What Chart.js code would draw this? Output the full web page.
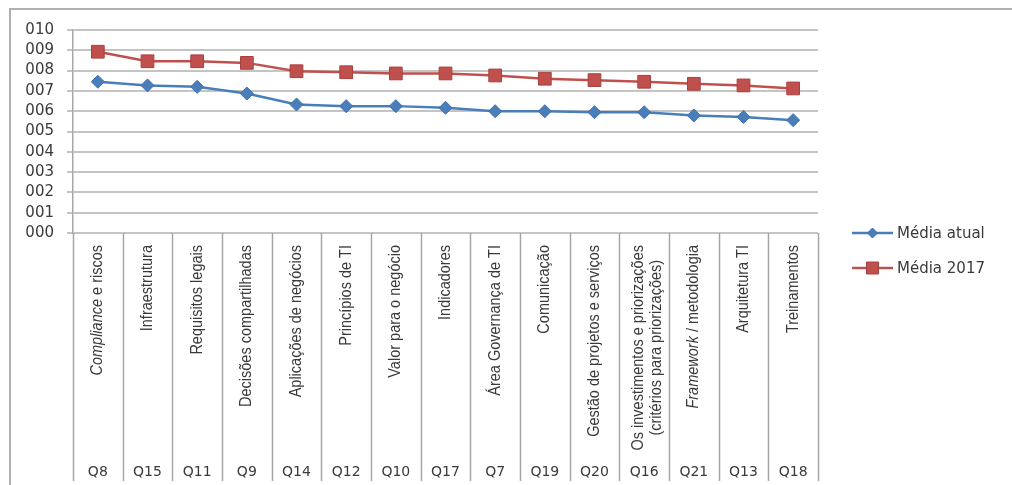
<!DOCTYPE html>
<html>
<head>
<meta charset="utf-8">
<script src="https://cdn.jsdelivr.net/npm/chart.js@4/dist/chart.umd.min.js"></script>
<style>
  html, body { margin: 0; padding: 0; background: #ffffff; }
  #wrap { width: 1012px; height: 485px; position: relative; }
</style>
</head>
<body>
<div id="wrap"><canvas id="c" width="1012" height="485"></canvas></div>
<script>
// ---- data ----
const categoryLabels = [
  'Compliance e riscos',
  'Infraestrutura',
  'Requisitos legais',
  'Decisões compartilhadas',
  'Aplicações de negócios',
  'Princípios de TI',
  'Valor para o negócio',
  'Indicadores',
  'Área Governança de TI',
  'Comunicação',
  'Gestão de projetos e serviços',
  'Os investimentos e priorizações\n(critérios para priorizações)',
  'Framework / metodologia',
  'Arquitetura TI',
  'Treinamentos'
];
const italicWords = ['Compliance', 'Framework'];
const qCodes = ['Q8','Q15','Q11','Q9','Q14','Q12','Q10','Q17','Q7','Q19','Q20','Q16','Q21','Q13','Q18'];
const mediaAtual = [7.45, 7.27, 7.20, 6.87, 6.33, 6.25, 6.25, 6.17, 6.00, 6.00, 5.95, 5.95, 5.79, 5.72, 5.56];
const media2017  = [8.93, 8.46, 8.46, 8.38, 7.97, 7.92, 7.86, 7.86, 7.76, 7.60, 7.53, 7.45, 7.35, 7.27, 7.12];
const yTickLabels = ['000','001','002','003','004','005','006','007','008','009','010'];
const seriesNames = ['Média atual', 'Média 2017'];

const BLUE = '#4A7EBB', BLUE_DARK = '#3D6EA8';
const RED = '#C0504D', RED_DARK = '#A8403D';
const TEXT = '#3a3a3a';
const LINE_GRAY = '#a6a6a6';

const customPlugin = {
  id: 'excelDecor',
  afterDraw(chart) {
    const ctx = chart.ctx;
    const xs = chart.scales.x;
    const area = chart.chartArea;
    const n = categoryLabels.length;
    const step = xs.getPixelForValue(1) - xs.getPixelForValue(0);
    const bottomY = 481;

    ctx.save();
    // outer frame
    ctx.strokeStyle = '#b0b0b0';
    ctx.lineWidth = 2;
    ctx.beginPath();
    ctx.moveTo(10, 600); ctx.lineTo(10, 9); ctx.lineTo(1100, 9);
    ctx.stroke();

    // category separators
    ctx.strokeStyle = LINE_GRAY;
    ctx.lineWidth = 1.5;
    for (let i = 0; i <= n; i++) {
      const x = Math.round(xs.getPixelForValue(i) - step / 2) + 0.5;
      ctx.beginPath();
      ctx.moveTo(x, area.bottom);
      ctx.lineTo(x, bottomY);
      ctx.stroke();
    }

    // rotated category labels
    const fs = 14.5;
    const normalFont = fs + 'px "Liberation Sans", Arial, sans-serif';
    const italicFont = 'italic ' + fs + 'px "Liberation Sans", Arial, sans-serif';
    ctx.fillStyle = TEXT;
    ctx.textBaseline = 'middle';
    ctx.textAlign = 'left';
    const topY = 245;
    categoryLabels.forEach((lab, i) => {
      const cx = xs.getPixelForValue(i);
      const lines = lab.split('\n');
      const segLines = lines.map(line => {
        const segs = [];
        let rest = line;
        italicWords.forEach(w => {
          if (rest.startsWith(w)) { segs.push({t: w, it: true}); rest = rest.slice(w.length); }
        });
        if (rest.length) segs.push({t: rest, it: false});
        let w = 0;
        segs.forEach(s => { ctx.font = s.it ? italicFont : normalFont; s.w = ctx.measureText(s.t).width; w += s.w; });
        return {segs, w};
      });
      const maxW = Math.max(...segLines.map(l => l.w));
      const lineH = 18;
      const multi = segLines.length > 1;
      ctx.save();
      ctx.translate(cx + (multi ? 3 : 0), topY);
      ctx.rotate(-Math.PI / 2);
      ctx.scale(1, 1.12);
      segLines.forEach((l, li) => {
        const yOff = (li - (segLines.length - 1) / 2) * lineH / 1.12;
        let x = -maxW / 2 - l.w / 2;
        l.segs.forEach(s => {
          ctx.font = s.it ? italicFont : normalFont;
          ctx.fillText(s.t, x, yOff);
          x += s.w;
        });
      });
      ctx.restore();
    });

    // Q codes row
    ctx.font = '14px "DejaVu Sans", sans-serif';
    ctx.textAlign = 'center';
    ctx.textBaseline = 'middle';
    ctx.fillStyle = TEXT;
    qCodes.forEach((q, i) => {
      ctx.fillText(q, xs.getPixelForValue(i), 472);
    });

    // legend
    const lx0 = 852, lx1 = 893, tx = 897;
    const ly = [233, 268];
    const cols = [[BLUE, BLUE_DARK], [RED, RED_DARK]];
    ctx.font = '15px "DejaVu Sans", sans-serif';
    ctx.textAlign = 'left';
    seriesNames.forEach((name, k) => {
      const y = ly[k];
      ctx.strokeStyle = cols[k][0];
      ctx.lineWidth = 2.5;
      ctx.beginPath(); ctx.moveTo(lx0, y); ctx.lineTo(lx1, y); ctx.stroke();
      const mx = (lx0 + lx1) / 2;
      ctx.fillStyle = cols[k][0];
      ctx.strokeStyle = cols[k][1];
      ctx.lineWidth = 1;
      ctx.beginPath();
      if (k === 0) {
        const r = 5;
        ctx.moveTo(mx, y - r); ctx.lineTo(mx + r, y); ctx.lineTo(mx, y + r); ctx.lineTo(mx - r, y); ctx.closePath();
      } else {
        const h = 6;
        ctx.rect(mx - h, y - h, 2 * h, 2 * h);
      }
      ctx.fill(); ctx.stroke();
      ctx.fillStyle = TEXT;
      ctx.fillText(name, tx, y + 1);
    });
    ctx.restore();
  }
};

new Chart(document.getElementById('c'), {
  type: 'line',
  data: {
    labels: qCodes,
    datasets: [
      {
        label: seriesNames[0],
        data: mediaAtual,
        borderColor: BLUE,
        backgroundColor: BLUE,
        borderWidth: 2.5,
        pointStyle: 'rectRot',
        pointRadius: 6.5,
        pointBackgroundColor: BLUE,
        pointBorderColor: BLUE_DARK,
        pointBorderWidth: 1,
        tension: 0
      },
      {
        label: seriesNames[1],
        data: media2017,
        borderColor: RED,
        backgroundColor: RED,
        borderWidth: 2.5,
        pointStyle: 'rect',
        pointRadius: 9,
        pointBackgroundColor: RED,
        pointBorderColor: RED_DARK,
        pointBorderWidth: 1,
        tension: 0
      }
    ]
  },
  options: {
    responsive: false,
    animation: false,
    devicePixelRatio: 1,
    layout: { padding: { top: 30, right: 194, left: 0, bottom: 0 } },
    plugins: {
      legend: { display: false },
      tooltip: { enabled: false }
    },
    scales: {
      x: {
        type: 'category',
        offset: true,
        grid: { display: false, drawTicks: false },
        border: { display: false },
        ticks: { display: false },
        afterFit: s => { s.height = 252; }
      },
      y: {
        min: 0,
        max: 10,
        afterFit: s => { s.width = 73; },
        ticks: {
          stepSize: 1,
          autoSkip: false,
          padding: 13,
          color: TEXT,
          font: { family: '"DejaVu Sans", sans-serif', size: 15 },
          callback: v => yTickLabels[v]
        },
        grid: { color: '#c4c4c4', lineWidth: 2, tickLength: 6, drawTicks: true },
        border: { display: true, color: '#a8a8a8', width: 1.5 }
      }
    }
  },
  plugins: [customPlugin]
});
</script>
</body>
</html>
